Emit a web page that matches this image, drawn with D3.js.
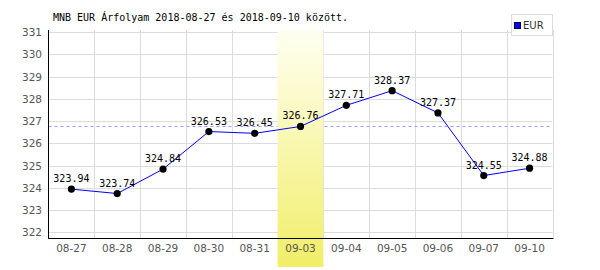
<!DOCTYPE html>
<html>
<head>
<meta charset="utf-8">
<script src="https://cdn.jsdelivr.net/npm/d3@7"></script>
<style>
  body { margin: 0; background: #fff; }
  svg { display: block; }
</style>
</head>
<body>
<script>
const width = 600;
const height = 270;

const title = "MNB EUR Árfolyam 2018-08-27 és 2018-09-10 között.";
const dates = ["08-27", "08-28", "08-29", "08-30", "08-31", "09-03", "09-04", "09-05", "09-06", "09-07", "09-10"];
const rates = [323.94, 323.74, 324.84, 326.53, 326.45, 326.76, 327.71, 328.37, 327.37, 324.55, 324.88];
const yTicks = [322, 323, 324, 325, 326, 327, 328, 329, 330, 331];
const refRate = 326.8;
const highlightDate = "09-03";
const seriesName = "EUR";

const margin = {left: 48.5, right: 47.5, top: 30, bottom: 32};
const x0 = margin.left, x1 = width - margin.right;
const y0 = margin.top, y1 = height - margin.bottom;

const svg = d3.select("body").append("svg")
  .attr("width", width)
  .attr("height", height);

const defs = svg.append("defs");
const grad = defs.append("linearGradient")
  .attr("id", "hl").attr("x1", 0).attr("y1", 0).attr("x2", 0).attr("y2", 1);
grad.append("stop").attr("offset", "0%").attr("stop-color", "#fffff2");
grad.append("stop").attr("offset", "100%").attr("stop-color", "#f1ee68");

const x = d3.scaleBand().domain(dates).range([x0, x1]);
const y = d3.scaleLinear().domain([321.74, 331.1]).range([y1, y0]);

// grid
svg.append("g").selectAll("line").data(yTicks).join("line")
  .attr("x1", x0).attr("x2", x1)
  .attr("y1", d => Math.round(y(d)) + 0.5).attr("y2", d => Math.round(y(d)) + 0.5)
  .attr("stroke", "#dcdcdc");

svg.append("g").selectAll("line").data(dates.slice(1).concat(["end"])).join("line")
  .attr("x1", d => d === "end" ? Math.round(x1) + 0.5 : Math.round(x(d)) + 0.5)
  .attr("x2", d => d === "end" ? Math.round(x1) + 0.5 : Math.round(x(d)) + 0.5)
  .attr("y1", y0).attr("y2", y1)
  .attr("stroke", "#dcdcdc");

// reference line
svg.append("line")
  .attr("x1", x0).attr("x2", x1)
  .attr("y1", Math.round(y(refRate)) + 0.5).attr("y2", Math.round(y(refRate)) + 0.5)
  .attr("stroke", "#9a9aff")
  .attr("stroke-dasharray", "3,3");

// highlighted day
svg.append("rect")
  .attr("x", x(highlightDate))
  .attr("y", y0)
  .attr("width", x.bandwidth())
  .attr("height", height - 3 - y0)
  .attr("fill", "url(#hl)");

// axes
svg.append("line")
  .attr("x1", x0).attr("x2", x0)
  .attr("y1", y0).attr("y2", y1 + 1)
  .attr("stroke", "#000");
svg.append("line")
  .attr("x1", x0).attr("x2", x1 + 1)
  .attr("y1", y1 + 0.5).attr("y2", y1 + 0.5)
  .attr("stroke", "#000");

svg.append("g").selectAll("text").data(yTicks).join("text")
  .attr("x", 42)
  .attr("y", d => y(d) + 4)
  .attr("text-anchor", "end")
  .attr("font-family", "DejaVu Sans")
  .attr("font-size", 10.5)
  .attr("fill", "#555")
  .text(d => d);

svg.append("g").selectAll("text").data(dates).join("text")
  .attr("x", d => x(d) + x.bandwidth() / 2)
  .attr("y", y1 + 14)
  .attr("text-anchor", "middle")
  .attr("font-family", "DejaVu Sans")
  .attr("font-size", 10.5)
  .attr("fill", "#555")
  .text(d => d);

// series
const pts = dates.map((d, i) => [x(d) + x.bandwidth() / 2, y(rates[i])]);
svg.append("path")
  .attr("d", d3.line()(pts))
  .attr("fill", "none")
  .attr("stroke", "#0000ff")
  .attr("stroke-width", 1);

svg.append("g").selectAll("circle").data(pts).join("circle")
  .attr("cx", d => d[0]).attr("cy", d => d[1])
  .attr("r", 3.6)
  .attr("fill", "#000");

svg.append("g").selectAll("text").data(rates).join("text")
  .attr("x", (d, i) => pts[i][0])
  .attr("y", (d, i) => pts[i][1] - 7)
  .attr("text-anchor", "middle")
  .attr("font-family", "DejaVu Sans Mono")
  .attr("font-size", 10)
  .attr("fill", "#000")
  .text(d => d.toFixed(2));

// title
svg.append("text")
  .attr("x", 53)
  .attr("y", 21)
  .attr("font-family", "DejaVu Sans Mono")
  .attr("font-size", 10)
  .attr("fill", "#000")
  .text(title);

// legend
const lg = svg.append("g");
lg.append("rect")
  .attr("x", 511.5).attr("y", 14.5)
  .attr("width", 41).attr("height", 21)
  .attr("fill", "#fff").attr("stroke", "#dcdcdc");
lg.append("rect")
  .attr("x", 514.5).attr("y", 22.5)
  .attr("width", 6).attr("height", 6)
  .attr("fill", "#0000ff").attr("stroke", "#000033");
lg.append("text")
  .attr("x", 523).attr("y", 29)
  .attr("font-family", "DejaVu Sans")
  .attr("font-size", 10)
  .attr("fill", "#333")
  .text(seriesName);
</script>
</body>
</html>
